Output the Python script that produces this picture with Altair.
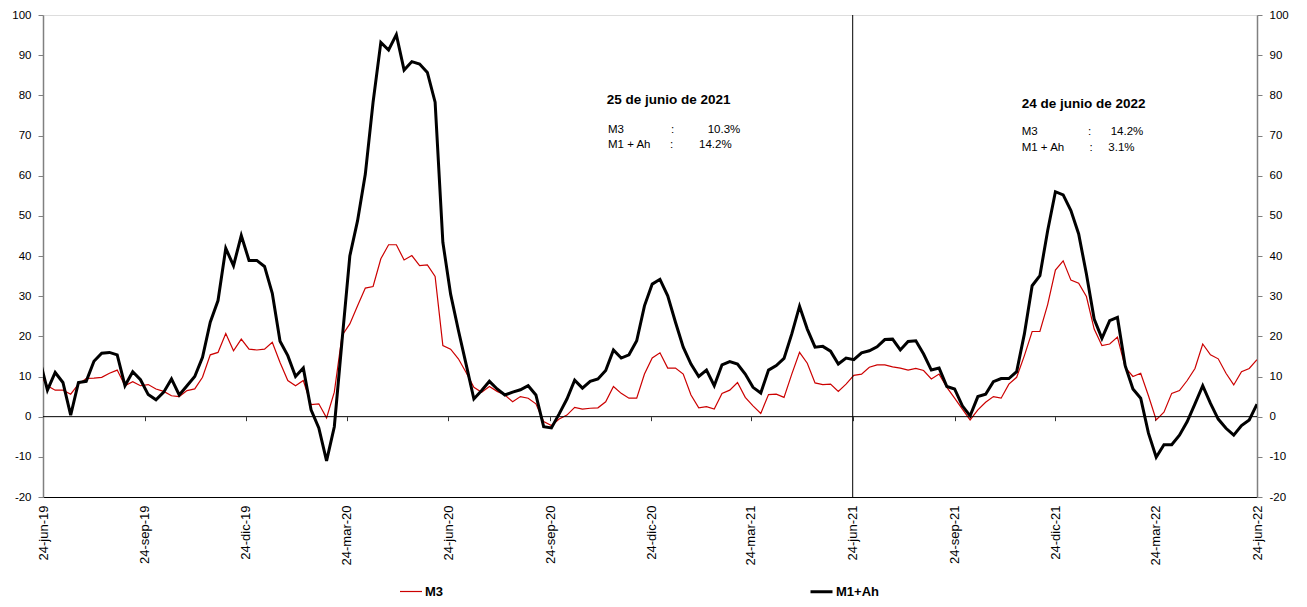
import altair as alt
import pandas as pd

# ---------------- data ----------------
START_DATE = "2019-06-21"          # first weekly observation (Friday)
SERIES_NAMES = ["M3", "M1+Ah"]

m3 = [
    10.6, 7.7, 6.6, 6.6, 5.6, 8.1, 9.5, 9.6, 9.8, 10.8,
    11.6, 7.7, 8.7, 7.7, 8.0, 6.9, 6.3, 5.2, 5.0, 6.5,
    6.9, 9.8, 15.4, 16.0, 20.7, 16.4, 19.3, 16.8, 16.6, 16.8,
    18.5, 13.5, 9.0, 7.7, 9.0, 3.0, 3.2, -0.3, 6.1, 20.2,
    23.1, 27.6, 32.0, 32.4, 39.3, 42.8, 42.8, 39.0, 40.1, 37.6,
    37.8, 34.9, 17.7, 16.8, 14.4, 11.0, 7.3, 6.1, 7.5, 6.3,
    5.4, 3.7, 5.0, 4.6, 3.2, -1.2, -2.2, -0.6, 0.4, 2.3,
    1.9, 2.1, 2.2, 3.7, 7.5, 5.8, 4.6, 4.6, 10.6, 14.6,
    15.9, 12.1, 12.1, 10.6, 5.4, 2.2, 2.5, 1.9, 5.8, 6.6,
    8.5, 4.8, 2.7, 0.8, 5.5, 5.6, 4.8, 10.6, 16.0, 13.3,
    8.4, 8.0, 8.1, 6.3, 8.1, 10.3, 10.6, 12.3, 12.9, 12.9,
    12.4, 12.1, 11.6, 12.0, 11.5, 9.4, 10.6, 7.3, 4.6, 1.9,
    -0.8, 1.7, 3.6, 5.0, 4.6, 8.1, 9.8, 15.2, 21.2, 21.2,
    27.9, 36.5, 38.8, 34.0, 33.2, 29.9, 21.8, 17.7, 18.1, 19.8,
    12.3, 10.0, 10.8, 5.2, -0.8, 1.1, 5.8, 6.5, 9.0, 12.0,
    18.1, 15.4, 14.4, 10.8, 7.9, 11.2, 12.0, 14.2,
]

m1ah = [
    14.2, 6.6, 11.0, 8.5, 0.4, 8.5, 8.8, 13.8, 15.8, 16.0,
    15.4, 7.7, 11.2, 9.2, 5.5, 4.2, 6.1, 9.4, 5.4, 7.7,
    10.0, 14.8, 23.5, 28.9, 41.9, 37.6, 45.1, 38.9, 38.9, 37.4,
    30.7, 18.8, 15.2, 10.0, 12.1, 1.7, -2.8, -11.0, -2.5, 19.0,
    40.0, 48.8, 60.4, 78.3, 93.2, 91.3, 95.1, 86.3, 88.4, 87.8,
    85.7, 78.3, 43.4, 30.5, 21.5, 13.0, 4.4, 6.5, 8.8, 6.9,
    5.4, 6.1, 6.7, 7.7, 5.4, -2.5, -2.8, 0.7, 4.4, 9.1,
    7.1, 8.8, 9.4, 11.5, 16.6, 14.6, 15.4, 18.9, 27.6, 33.0,
    34.2, 30.1, 23.5, 17.3, 13.1, 10.0, 11.6, 7.7, 12.9, 13.7,
    13.1, 10.6, 7.3, 5.9, 11.6, 12.7, 14.5, 20.6, 27.5, 21.8,
    17.3, 17.5, 16.3, 13.1, 14.6, 14.2, 15.9, 16.4, 17.4, 19.2,
    19.3, 16.6, 18.7, 18.9, 15.6, 11.6, 12.1, 7.5, 6.9, 2.7,
    0.2, 5.0, 5.6, 8.7, 9.5, 9.5, 11.2, 20.6, 32.6, 35.1,
    46.3, 56.0, 55.2, 51.3, 45.5, 35.5, 24.3, 19.5, 23.9, 24.7,
    12.7, 6.9, 4.6, -4.1, -10.1, -7.0, -7.0, -4.6, -1.2, 3.2,
    7.7, 3.3, -0.6, -2.9, -4.6, -2.2, -0.8, 3.1,
]

x_domain_dates = ["2019-06-24", "2022-06-24"]
x_tick_dates = [
    "2019-06-24", "2019-09-24", "2019-12-24", "2020-03-24",
    "2020-06-24", "2020-09-24", "2020-12-24", "2021-03-24",
    "2021-06-24", "2021-09-24", "2021-12-24", "2022-03-24",
    "2022-06-24",
]
month_abbr = ["ene", "feb", "mar", "abr", "may", "jun",
              "jul", "ago", "sep", "oct", "nov", "dic"]
y_ticks = [-20, -10, 0, 10, 20, 30, 40, 50, 60, 70, 80, 90, 100]
divider_date = ["2021-06-24"]

ann1_title = "25 de junio de 2021"
ann1_rows = [("M3", ":", "10.3%"), ("M1 + Ah", ":", "14.2%")]
ann2_title = "24 de junio de 2022"
ann2_rows = [("M3", ":", "14.2%"), ("M1 + Ah", ":", "3.1%")]

# ---------------- build ----------------
assert len(m3) == len(m1ah)
n = len(m3)
dates = list(pd.date_range(START_DATE, periods=n, freq="7D").strftime("%Y-%m-%d"))
df = pd.DataFrame({
    "date": dates * 2,
    "value": m3 + m1ah,
    "series": [SERIES_NAMES[0]] * n + [SERIES_NAMES[1]] * n,
})


def ms(d):
    return int(pd.Timestamp(d, tz="UTC").timestamp() * 1000)


FONT = "Liberation Sans, Arial, sans-serif"

x_scale = alt.Scale(type="utc", domain=[ms(d) for d in x_domain_dates], nice=False)
y_scale = alt.Scale(domain=[-20, 100], nice=False, zero=False)

months_js = "[" + ",".join("'%s'" % m for m in month_abbr) + "]"
x_label_axis = alt.Axis(
    orient="bottom", values=[ms(d) for d in x_tick_dates],
    labelExpr="utcdate(datum.value) + '-' + " + months_js
              + "[utcmonth(datum.value)] + '-' + utcFormat(datum.value, '%y')",
    labelAngle=270, labelAlign="right", labelBaseline="middle",
    labelFont=FONT, labelFontSize=13, labelColor="black", labelPadding=8,
    ticks=False, domain=True, domainColor="black", domainWidth=1,
    grid=False, title=None, labelOverlap=False, labelBound=False,
)
x_tick_axis = alt.Axis(
    orient="bottom", values=[ms(d) for d in x_tick_dates], offset=-80.33,
    labels=False, domain=False, ticks=True, tickSize=4, tickColor="#333333",
    tickWidth=1, grid=False, title=None,
)


def y_axis(orient):
    return alt.Axis(
        orient=orient, values=y_ticks, labelExpr="'' + datum.value",
        tickSize=5, tickColor="#808080", tickWidth=1,
        domain=True, domainColor="#808080", domainWidth=1.5,
        labelFont=FONT, labelFontSize=11.5, labelColor="black", labelPadding=7,
        grid=False, title=None,
    )


legend = alt.Legend(
    title=None, orient="none", legendX=356, legendY=564, direction="horizontal",
    symbolType="stroke", symbolSize=484, labelFont=FONT, labelFontSize=13,
    labelFontWeight="bold", labelColor="black", labelOffset=2, columnPadding=360,
    padding=0,
)
color = alt.Color("series:N", scale=alt.Scale(domain=SERIES_NAMES, range=["#cc0000", "#000000"]),
                  legend=legend)
width_enc = alt.StrokeWidth("series:N", scale=alt.Scale(type="ordinal", domain=SERIES_NAMES,
                                                        range=[1.2, 3.0]), legend=legend)

red = alt.Chart(df).transform_filter(alt.datum.series == SERIES_NAMES[0]).mark_line(
    clip=True, strokeJoin="miter").encode(
    x=alt.X("date:T", scale=x_scale, axis=x_label_axis),
    y=alt.Y("value:Q", scale=y_scale, axis=y_axis("left")),
    color=color, strokeWidth=width_enc,
)
black = alt.Chart(df).transform_filter(alt.datum.series == SERIES_NAMES[1]).mark_line(
    clip=True, strokeJoin="miter").encode(
    x=alt.X("date:T", scale=x_scale, axis=None),
    y=alt.Y("value:Q", scale=y_scale, axis=y_axis("right")),
    color=color, strokeWidth=width_enc,
)
zero = alt.Chart(pd.DataFrame({"v": [0]})).mark_rule(color="black", strokeWidth=1).encode(
    y=alt.Y("v:Q", scale=y_scale, axis=None),
)
divider = alt.Chart(pd.DataFrame({"d": divider_date})).mark_rule(color="black", strokeWidth=1).encode(
    x=alt.X("d:T", scale=x_scale, axis=x_tick_axis),
)


def txt(s, x, y, size, bold=False):
    return alt.Chart(pd.DataFrame({"t": [s]})).mark_text(
        align="left", baseline="middle", font=FONT, fontSize=size,
        fontWeight="bold" if bold else "normal", color="black",
    ).encode(x=alt.value(x), y=alt.value(y), text="t:N")


TS, RS = 13.5, 11.5
texts = [
    txt(ann1_title, 563.7, 85, TS, True),
    txt(ann1_rows[0][0], 565, 115, RS), txt(ann1_rows[0][1], 628, 115, RS), txt(ann1_rows[0][2], 664.7, 115, RS),
    txt(ann1_rows[1][0], 565, 130, RS), txt(ann1_rows[1][1], 627, 130, RS), txt(ann1_rows[1][2], 656, 130, RS),
    txt(ann2_title, 978.7, 89, TS, True),
    txt(ann2_rows[0][0], 978.7, 117.3, RS), txt(ann2_rows[0][1], 1045, 117.3, RS), txt(ann2_rows[0][2], 1067.7, 117.3, RS),
    txt(ann2_rows[1][0], 978.7, 132.7, RS), txt(ann2_rows[1][1], 1046.5, 132.7, RS), txt(ann2_rows[1][2], 1065.3, 132.7, RS),
]

chart = alt.layer(red, zero, divider, black, *texts).resolve_axis(
    x="independent", y="independent"
).properties(
    width=1214, height=482,
    autosize=alt.AutoSizeParams(type="none"),
    padding={"left": 35, "top": 7, "right": 35, "bottom": 102},
).configure_view(stroke="black", strokeWidth=1).configure(background="white")

chart.save("out.html", embed_options={"renderer": "svg", "actions": False})
